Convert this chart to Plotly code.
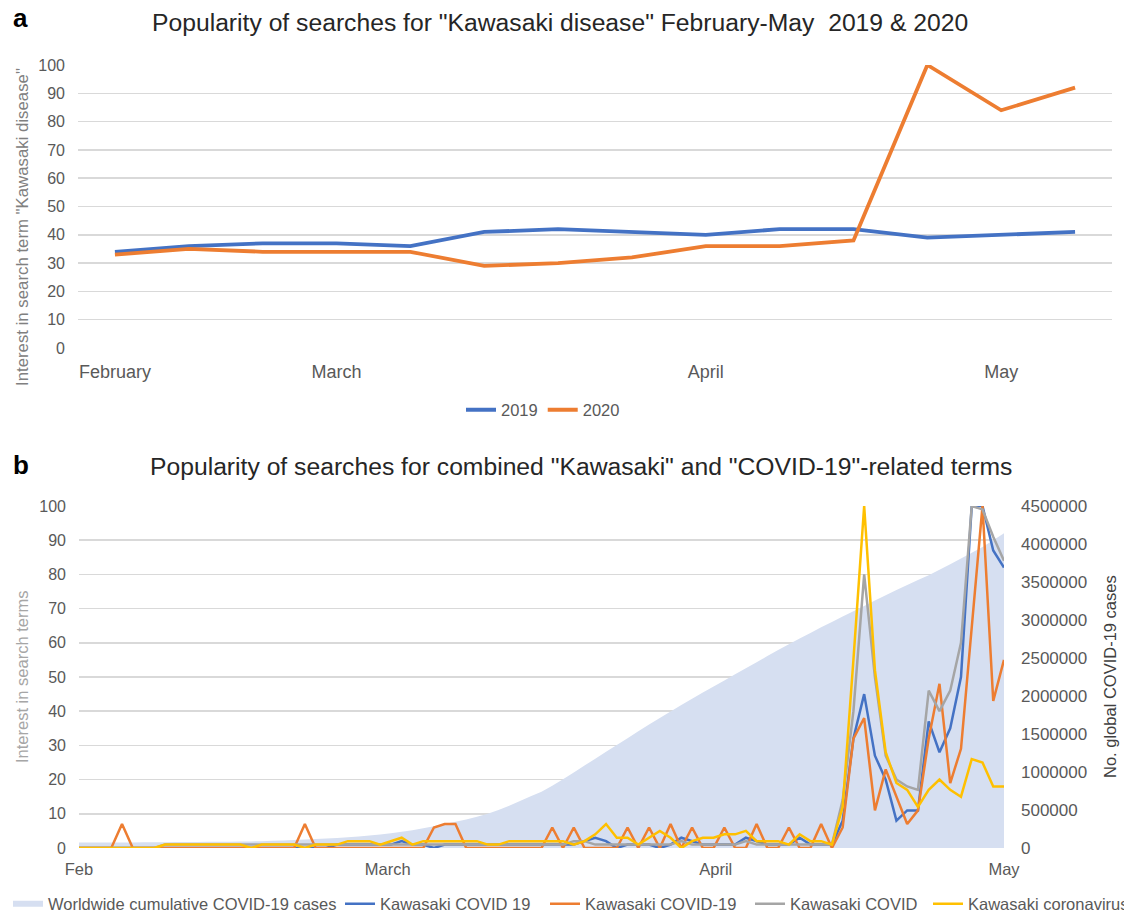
import plotly.graph_objects as go

# ---------------- Panel a: weekly Google Trends, "Kawasaki disease" ----------------
week_idx = list(range(14))
week_tick_pos = [0, 3, 8, 12]
week_tick_text = ["February", "March", "April", "May"]
kd_2019 = [34, 36, 37, 37, 36, 41, 42, 41, 40, 42, 42, 39, 40, 41]
kd_2020 = [33, 35, 34, 34, 34, 29, 30, 32, 36, 36, 38, 100, 84, 92]

# ---------------- Panel b: daily values ----------------
day_idx = list(range(87))
day_tick_pos = [0, 28.7, 59.2, 86]
day_tick_text = ["Feb", "March", "April", "May"]

cum_cases = [72000, 72000, 73000, 73000, 74000, 74000, 75000, 76000, 77000, 78000,
             79000, 80000, 81000, 82000, 83000, 85000, 87000, 90000, 94000, 99000,
             105000, 111000, 118000, 125000, 132000, 140000, 150000, 163000, 178000, 195000,
             213000, 235000, 260000, 285000, 315000, 345000, 375000, 410000, 450000, 500000,
             555000, 620000, 680000, 740000, 820000, 905000, 995000, 1085000, 1175000, 1265000,
             1355000, 1445000, 1535000, 1625000, 1710000, 1795000, 1880000, 1965000, 2045000, 2125000,
             2205000, 2285000, 2365000, 2445000, 2525000, 2605000, 2680000, 2755000, 2830000, 2905000,
             2975000, 3045000, 3115000, 3185000, 3255000, 3325000, 3395000, 3460000, 3525000, 3590000,
             3660000, 3735000, 3810000, 3885000, 3960000, 4050000, 4140000]

kaw_covid_19 = [0, 0, 0, 0, 0, 0, 0, 0, 0, 0,
                0, 0, 0, 0, 0, 0, 0, 0, 0, 0,
                0, 0, 0, 0, 1, 1, 1, 1, 1, 1,
                2, 1, 1, 0, 1, 1, 1, 1, 1, 1,
                1, 1, 1, 1, 1, 1, 1, 2, 3, 2,
                0, 1, 1, 1, 0, 1, 3, 2, 1, 1,
                1, 1, 3, 2, 1, 1, 1, 3, 1, 1,
                1, 8, 32, 45, 27, 20, 8, 11, 11, 37,
                28, 35, 50, 100, 100, 87, 82]

kaw_covid_hyphen_19 = [0, 0, 0, 0, 7, 0, 0, 0, 0, 0,
                       0, 0, 0, 0, 0, 0, 0, 0, 0, 0,
                       0, 7, 0, 0, 0, 0, 0, 0, 0, 0,
                       0, 0, 0, 6, 7, 7, 0, 0, 0, 0,
                       0, 0, 0, 0, 6, 0, 6, 0, 0, 0,
                       0, 6, 0, 6, 0, 7, 0, 6, 0, 0,
                       6, 0, 0, 7, 0, 0, 6, 0, 0, 7,
                       0, 6, 32, 38, 11, 23, 15, 7, 11, 32,
                       48, 19, 29, 64, 100, 43, 55]

kaw_covid = [0, 0, 0, 0, 0, 0, 0, 0, 1, 1,
             1, 1, 1, 1, 1, 1, 1, 1, 1, 1,
             1, 1, 1, 1, 1, 1, 1, 1, 1, 1,
             1, 1, 1, 1, 1, 1, 1, 1, 1, 1,
             1, 1, 1, 1, 1, 1, 2, 2, 1, 1,
             1, 1, 1, 1, 1, 1, 2, 1, 1, 1,
             1, 1, 2, 1, 1, 1, 1, 1, 1, 1,
             1, 14, 40, 80, 50, 27, 20, 18, 17, 46,
             40, 46, 60, 100, 99, 91, 84]

kaw_coronavirus = [0, 0, 0, 0, 0, 0, 0, 0, 1, 1,
                   1, 1, 1, 1, 1, 1, 0, 1, 1, 1,
                   1, 0, 1, 1, 1, 2, 2, 2, 1, 2,
                   3, 1, 2, 2, 2, 2, 2, 2, 1, 1,
                   2, 2, 2, 2, 2, 2, 1, 2, 4, 7,
                   3, 3, 1, 3, 5, 3, 0, 2, 3, 3,
                   4, 4, 5, 2, 2, 2, 1, 4, 2, 2,
                   1, 12, 55, 100, 52, 28, 19, 17, 12, 17,
                   20, 17, 15, 26, 25, 18, 18]

# ---------------- styling helpers ----------------
W, H = 1124, 916
FONT = "Liberation Sans, Arial, sans-serif"
BLUE, ORANGE, GRAY, YELLOW = "#4472C4", "#ED7D31", "#A5A5A5", "#FFC000"
AREA = "#D6DFF1"
GRID = "#D9D9D9"
TICK = "#595959"


def xp(px):
    return px / W


def yp(py):
    return 1 - py / H


fig = go.Figure()

# Panel a
fig.add_trace(go.Scatter(x=week_idx, y=kd_2019, name="2019", mode="lines",
                         line=dict(color=BLUE, width=3.8), xaxis="x", yaxis="y",
                         legend="legend"))
fig.add_trace(go.Scatter(x=week_idx, y=kd_2020, name="2020", mode="lines",
                         line=dict(color=ORANGE, width=3.8), xaxis="x", yaxis="y",
                         legend="legend"))

# Panel b
fig.add_trace(go.Scatter(x=day_idx, y=cum_cases, name="Worldwide cumulative COVID-19 cases",
                         mode="none", fill="tozeroy", fillcolor=AREA,
                         xaxis="x2", yaxis="y3", legend="legend2"))
fig.add_trace(go.Scatter(x=day_idx, y=kaw_covid_19, name="Kawasaki COVID 19", mode="lines",
                         line=dict(color=BLUE, width=2.5), xaxis="x2", yaxis="y4",
                         legend="legend3"))
fig.add_trace(go.Scatter(x=day_idx, y=kaw_covid_hyphen_19, name="Kawasaki COVID-19", mode="lines",
                         line=dict(color=ORANGE, width=2.5), xaxis="x2", yaxis="y4",
                         legend="legend4"))
fig.add_trace(go.Scatter(x=day_idx, y=kaw_covid, name="Kawasaki COVID", mode="lines",
                         line=dict(color=GRAY, width=2.5), xaxis="x2", yaxis="y4",
                         legend="legend5"))
fig.add_trace(go.Scatter(x=day_idx, y=kaw_coronavirus, name="Kawasaki coronavirus", mode="lines",
                         line=dict(color=YELLOW, width=2.5), xaxis="x2", yaxis="y4",
                         legend="legend6"))

tickfont = dict(family=FONT, size=16, color=TICK)
legfont = dict(family=FONT, size=16.5, color=TICK)


def bottom_legend(x_px):
    return dict(orientation="h", x=xp(x_px), xanchor="left", y=yp(904), yanchor="middle",
                font=legfont, bgcolor="rgba(0,0,0,0)", borderwidth=0)


fig.update_layout(
    width=W, height=H,
    margin=dict(l=0, r=0, t=0, b=0, autoexpand=False),
    paper_bgcolor="white", plot_bgcolor="white",
    font=dict(family=FONT, color=TICK),
    hovermode=False,
    xaxis=dict(domain=[xp(78), xp(1112)], range=[-0.5, 13.5], anchor="y",
               tickmode="array", tickvals=week_tick_pos, ticktext=week_tick_text,
               showgrid=False, zeroline=False, showline=False, ticks="",
               tickfont=dict(family=FONT, size=18, color=TICK),
               ticklabelstandoff=11, automargin=False),
    yaxis=dict(domain=[yp(348), yp(65)], range=[0, 100], dtick=10, anchor="x",
               showgrid=True, gridcolor=GRID, gridwidth=1.5, zeroline=False,
               showline=False, ticks="", tickfont=tickfont,
               ticklabelstandoff=12, automargin=False),
    xaxis2=dict(domain=[xp(79), xp(1004)], range=[0, 86], anchor="y3",
                tickmode="array", tickvals=day_tick_pos, ticktext=day_tick_text,
                showgrid=False, zeroline=False, showline=False, ticks="",
                tickfont=dict(family=FONT, size=16.5, color=TICK),
                ticklabelstandoff=9, automargin=False),
    yaxis3=dict(domain=[yp(848), yp(506)], range=[0, 4500000], dtick=500000,
                tickformat="d", side="right", anchor="x2",
                showgrid=False, zeroline=False, showline=False, ticks="",
                tickfont=dict(family=FONT, size=17, color=TICK),
                ticklabelstandoff=16, automargin=False),
    yaxis4=dict(range=[0, 100], dtick=10, overlaying="y3", side="left", anchor="x2",
                showgrid=True, gridcolor=GRID, gridwidth=1.5, zeroline=False,
                showline=False, ticks="", tickfont=tickfont,
                ticklabelstandoff=12, automargin=False),
    legend=dict(orientation="h", x=xp(543), xanchor="center", y=yp(410), yanchor="middle",
                font=legfont, bgcolor="rgba(0,0,0,0)", borderwidth=0),
    legend2=bottom_legend(8),
    legend3=bottom_legend(340),
    legend4=bottom_legend(545),
    legend5=bottom_legend(750),
    legend6=bottom_legend(928),
)

annotations = [
    dict(text="<b>a</b>", x=xp(11), y=yp(18), xanchor="left", yanchor="middle",
         font=dict(family=FONT, size=26, color="#000000")),
    dict(text='Popularity of searches for "Kawasaki disease" February-May\u00a0 2019 &amp; 2020',
         x=xp(560), y=yp(23), xanchor="center", yanchor="middle",
         font=dict(family=FONT, size=24.7, color="#262626")),
    dict(text="<b>b</b>", x=xp(11), y=yp(465), xanchor="left", yanchor="middle",
         font=dict(family=FONT, size=26, color="#000000")),
    dict(text='Popularity of searches for combined "Kawasaki" and "COVID-19"-related terms',
         x=xp(581), y=yp(466), xanchor="center", yanchor="middle",
         font=dict(family=FONT, size=24.7, color="#262626")),
    dict(text='Interest in search term "Kawasaki disease"', textangle=-90,
         x=xp(22), y=yp(227), xanchor="center", yanchor="middle",
         font=dict(family=FONT, size=16.8, color="#808080")),
    dict(text="Interest in search terms", textangle=-90,
         x=xp(22), y=yp(677), xanchor="center", yanchor="middle",
         font=dict(family=FONT, size=16.5, color="#A6A6A6")),
    dict(text="No. global COVID-19 cases", textangle=-90,
         x=xp(1110), y=yp(677), xanchor="center", yanchor="middle",
         font=dict(family=FONT, size=16.5, color="#404040")),
]
for a in annotations:
    a.update(xref="paper", yref="paper", showarrow=False)
fig.update_layout(annotations=annotations)

fig.write_html("out.html",
               config={"displayModeBar": False, "staticPlot": True},
               post_script="document.body.style.margin='0';document.body.style.overflow='hidden';")
